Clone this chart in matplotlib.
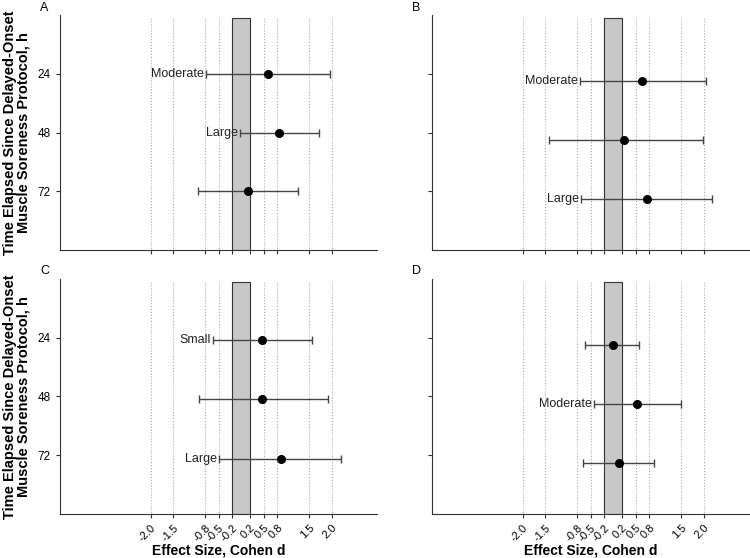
import numpy as np
import matplotlib.pyplot as plt

plt.rcParams['font.family'] = ['Liberation Sans', 'DejaVu Sans']

hours = [24, 48, 72]
grid_x = [-2.0, -1.5, -0.8, -0.5, 0.5, 0.8, 1.5, 2.0]
tick_x = [-2.0, -1.5, -0.8, -0.5, -0.2, 0.2, 0.5, 0.8, 1.5, 2.0]
tick_lab = ['-2.0', '-1.5', '-0.8', '-0.5', '-0.2', '0.2', '0.5', '0.8', '1.5', '2.0']

# panel A
a_y = [24, 48, 72]
a_d = [0.59, 0.84, 0.15]
a_lo = [-0.78, -0.02, -0.95]
a_hi = [1.97, 1.72, 1.25]
a_txt = ['Moderate', 'Large', '']

# panel B
b_y = [27, 51, 75]
b_d = [0.64, 0.25, 0.74]
b_lo = [-0.73, -1.42, -0.70]
b_hi = [2.05, 1.99, 2.18]
b_txt = ['Moderate', '', 'Large']

# panel C
c_y = [25, 49, 73.5]
c_d = [0.47, 0.47, 0.87]
c_lo = [-0.63, -0.93, -0.49]
c_hi = [1.57, 1.92, 2.21]
c_txt = ['Small', '', 'Large']

# panel D
d_y = [27, 51, 75]
d_d = [-0.01, 0.53, 0.14]
d_lo = [-0.62, -0.43, -0.66]
d_hi = [0.57, 1.49, 0.90]
d_txt = ['', 'Moderate', '']

panels = [('A', a_y, a_d, a_lo, a_hi, a_txt),
          ('B', b_y, b_d, b_lo, b_hi, b_txt),
          ('C', c_y, c_d, c_lo, c_hi, c_txt),
          ('D', d_y, d_d, d_lo, d_hi, d_txt)]

pos = [[0.08, 0.552, 0.4227, 0.421],
       [0.576, 0.552, 0.4227, 0.421],
       [0.08, 0.079, 0.4227, 0.421],
       [0.576, 0.079, 0.4227, 0.421]]
lab_xy = [(40, 2), (412, 2), (40, 265), (412, 265)]

fig = plt.figure(figsize=(7.5, 5.58), dpi=100)

for i, (name, y, d, lo, hi, txt) in enumerate(panels):
    ax = fig.add_axes(pos[i])
    y = np.array(y); d = np.array(d); lo = np.array(lo); hi = np.array(hi)
    ax.vlines(grid_x, 1.2, 96, colors='#aaaaaa', linestyles=':', linewidth=0.8, zorder=1)
    ax.fill_between([-0.2, 0.2], 1.2, 96, facecolor='#c8c8c8', edgecolor='#333333', linewidth=0.8, zorder=2)
    ax.errorbar(d, y, xerr=[d - lo, hi - d], fmt='o', color='black', ms=5.5,
                ecolor='#444444', elinewidth=1.0, capsize=3, capthick=1.0, zorder=4)
    for k in range(3):
        if txt[k]:
            ax.text(lo[k] - 0.05, y[k], txt[k], ha='right', va='center', fontsize=9, color='#222222', zorder=5)
    ax.set_xlim(-4, 3)
    ax.set_ylim(96, 0)
    ax.set_yticks(hours)
    ax.set_xticks(tick_x)
    ax.spines['top'].set_visible(False)
    ax.spines['right'].set_visible(False)
    ax.spines['left'].set_color('#333333')
    ax.spines['bottom'].set_color('#333333')
    ax.tick_params(length=3, color='#333333', labelsize=8.5)
    if name in ('A', 'C'):
        ax.set_yticklabels([str(h) for h in hours])
        ax.set_ylabel('Time Elapsed Since Delayed-Onset\nMuscle Soreness Protocol, h',
                      fontsize=10.5, fontweight='bold', labelpad=5, linespacing=1.0)
    else:
        ax.set_yticklabels([])
    if name in ('C', 'D'):
        ax.set_xticklabels(tick_lab, rotation=45, ha='right', rotation_mode='anchor', fontsize=8)
        ax.set_xlabel('Effect Size, Cohen d', fontsize=10, fontweight='bold', labelpad=0)
    else:
        ax.set_xticklabels([])
    fig.text(lab_xy[i][0] / 750, 1 - lab_xy[i][1] / 558, name, fontsize=9, ha='left', va='top')

fig.savefig('out.png', dpi=100)
